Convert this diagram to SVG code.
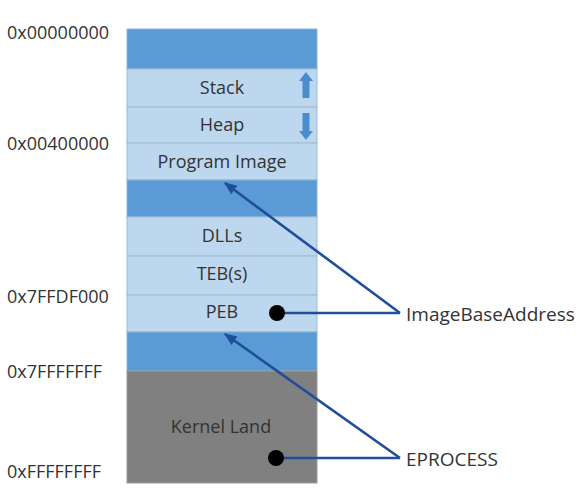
<svg xmlns="http://www.w3.org/2000/svg" width="578" height="492" viewBox="0 0 578 492">
<defs>
<style>
.dark{fill:#5b9bd5;stroke:#8fb3d6;stroke-width:1}
.light{fill:#bdd7ee;stroke:#9fbbd6;stroke-width:1}
.kern{fill:#808080;stroke:#9a9a9a;stroke-width:1}
.lbl{font-family:"Open Sans","Liberation Sans",sans-serif;font-size:18px;fill:#333333;text-anchor:middle}
.addr{font-family:"Open Sans","Liberation Sans",sans-serif;font-size:18px;fill:#333333}
.side{font-family:"Open Sans","Liberation Sans",sans-serif;font-size:19px;fill:#333333}
.conn{stroke:#1f4e9a;stroke-width:2.6;fill:none}
.dot{fill:#000000}
.garrow{fill:#4a8ccc}
</style>
<marker id="ah" viewBox="0 0 10 10" refX="9" refY="5" markerWidth="5" markerHeight="5" orient="auto" markerUnits="strokeWidth">
<path d="M0,1 L10,5 L0,9 Z" fill="#1f4e9a"/>
</marker>
</defs>
<rect width="578" height="492" fill="#ffffff"/>
<g id="seg-top"><rect class="dark" x="127" y="29" width="190" height="40"/></g>
<g id="stack"><rect class="light" x="127" y="69" width="190" height="38"/><text class="lbl" x="222" y="94">Stack</text>
<path class="garrow" d="M306,72 L313,81 L309.5,81 L309.5,98 L302.5,98 L302.5,81 L299,81 Z"/></g>
<g id="heap"><rect class="light" x="127" y="107" width="190" height="36"/><text class="lbl" x="222" y="131">Heap</text>
<path class="garrow" d="M306,140 L313,131 L309.5,131 L309.5,113 L302.5,113 L302.5,131 L299,131 Z"/></g>
<g id="program-image"><rect class="light" x="127" y="143" width="190" height="37"/><text class="lbl" x="222" y="168">Program Image</text></g>
<g id="seg-mid"><rect class="dark" x="127" y="180" width="190" height="37"/></g>
<g id="dlls"><rect class="light" x="127" y="217" width="190" height="39"/><text class="lbl" x="222" y="242">DLLs</text></g>
<g id="tebs"><rect class="light" x="127" y="256" width="190" height="39"/><text class="lbl" x="222" y="280">TEB(s)</text></g>
<g id="peb"><rect class="light" x="127" y="295" width="190" height="37"/><text class="lbl" x="222" y="318">PEB</text></g>
<g id="seg-low"><rect class="dark" x="127" y="332" width="190" height="39"/></g>
<g id="kernel-land"><rect class="kern" x="127" y="371" width="190" height="112"/><text class="lbl" x="221" y="433">Kernel Land</text></g>
<g id="addresses">
<text class="addr" x="7" y="39">0x00000000</text>
<text class="addr" x="7" y="150">0x00400000</text>
<text class="addr" x="7" y="303">0x7FFDF000</text>
<text class="addr" x="7" y="378">0x7FFFFFFF</text>
<text class="addr" x="7" y="478">0xFFFFFFFF</text>
</g>
<g id="image-base-address"><text class="side" x="406" y="321">ImageBaseAddress</text></g>
<g id="eprocess"><text class="side" x="406" y="466">EPROCESS</text></g>
<g id="connectors">
<path class="conn" d="M400,313 L277,313"/>
<path class="conn" d="M400,313 L225,183" marker-end="url(#ah)"/>
<path class="conn" d="M400,458 L277,458"/>
<path class="conn" d="M400,458 L225,334" marker-end="url(#ah)"/>
<circle class="dot" cx="277" cy="313" r="8"/>
<circle class="dot" cx="276" cy="458" r="8"/>
</g>
</svg>
